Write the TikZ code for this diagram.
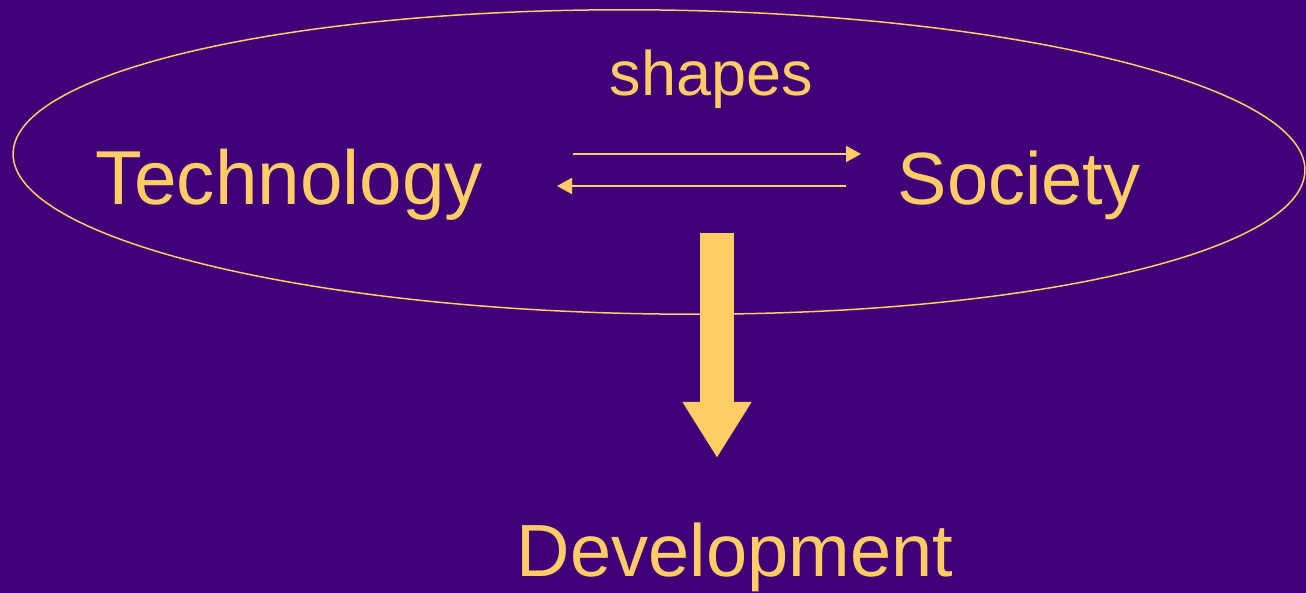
\documentclass[tikz,border=0pt]{standalone}
\usepackage{fontspec}
\setmainfont{Liberation Sans}
\usetikzlibrary{arrows.meta}
\usetikzlibrary{calc}
\definecolor{bgpurple}{RGB}{64,0,120}
\definecolor{gold}{RGB}{255,204,102}
\tikzset{
  word/.style={inner sep=0pt, anchor=base, text=gold},
  thin arrow/.style={draw=gold, line width=2pt, -{Triangle[width=16pt,length=15pt]}},
}

\begin{document}
\begin{tikzpicture}[x=1pt, y=1pt]
        \fill[bgpurple] (0,0) rectangle (1306,593);
        \useasboundingbox (0,0) rectangle (1306,593);
        \draw[gold, line width=1.5pt, rotate around={-0.75:(659,431)}] (659,431) ellipse [x radius=646, y radius=152];
        \node[word, font=\fontsize{76.5}{80}\selectfont] (T) at (289.5,388) {Technology};
        \node[word, font=\fontsize{74}{80}\selectfont] (S) at (1019,388) {Society};
        \node[word, font=\fontsize{63}{66}\selectfont] (sh) at (711.5,497) {shapes};
        \node[word, font=\fontsize{74}{80}\selectfont] (D) at (735,16) {Development};
        \coordinate (ts1) at (573,439);
        \coordinate (ts2) at (861,439);
        \coordinate (st1) at (846,407);
        \coordinate (st2) at (557,407);
        \coordinate (big1) at (717,360);
        \coordinate (big2) at (717,135);
        \draw[thin arrow] (ts1) -- (ts2);
        \draw[thin arrow] (st1) -- (st2);
        \draw[gold, line width=34pt, -{Triangle[width=65pt,length=56pt]}] (big1) -- (big2);
    \end{tikzpicture}
\end{document}
